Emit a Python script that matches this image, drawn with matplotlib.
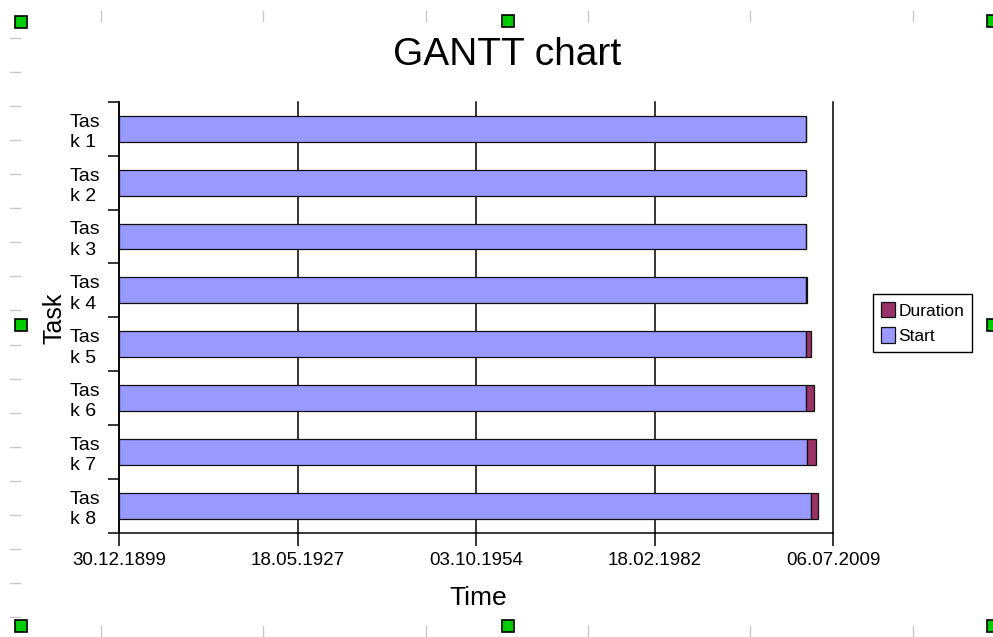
import matplotlib.pyplot as plt
import matplotlib.ticker as mticker
from matplotlib.patches import Rectangle
from matplotlib.lines import Line2D
from datetime import date, timedelta

plt.rcParams['font.family'] = ['Liberation Sans', 'DejaVu Sans']

tasks = ['Task 1', 'Task 2', 'Task 3', 'Task 4', 'Task 5', 'Task 6', 'Task 7', 'Task 8']
tick_labels = ['Tas\nk 1', 'Tas\nk 2', 'Tas\nk 3', 'Tas\nk 4',
               'Tas\nk 5', 'Tas\nk 6', 'Tas\nk 7', 'Tas\nk 8']
start_dates = ['2005-04-29', '2005-04-29', '2005-04-29', '2005-04-20',
               '2005-04-20', '2005-04-29', '2005-07-26', '2006-02-18']
durations = [3, 3, 3, 100, 280, 470, 487, 392]  # days

# spreadsheet-style day numbers (day 0 = 30.12.1899)
base = date(1899, 12, 30)
starts = [(date.fromisoformat(d) - base).days for d in start_dates]

W, H = 993, 637
fig = plt.figure(figsize=(W / 100, H / 100), dpi=100)
ax = fig.add_axes([119 / W, 1 - 533 / H, (833 - 119) / W, (533 - 101.7) / H])

ypos = [i + 0.5 for i in range(len(tasks))]
b_start = ax.barh(ypos, starts, height=0.48, color='#9999ff', edgecolor='#111111',
                  linewidth=0.9, label='Start', zorder=3)
b_dur = ax.barh(ypos, durations, left=starts, height=0.48, color='#993366',
                edgecolor='#111111', linewidth=0.9, label='Duration', zorder=3)

ax.set_ylim(len(tasks), 0)
ax.set_xlim(0, 40000)
ax.set_xticks(range(0, 40001, 10000))
ax.xaxis.set_major_formatter(mticker.FuncFormatter(
    lambda v, p: (base + timedelta(days=int(v))).strftime('%d.%m.%Y')))

ax.set_yticks(range(len(tasks) + 1))
ax.set_yticklabels([])
ax.set_yticks(ypos, minor=True)
ax.set_yticklabels(tick_labels, minor=True, fontsize=14, linespacing=1.25,
                   multialignment='left')
ax.tick_params(axis='y', which='major', length=8, width=1.1, direction='out')
ax.tick_params(axis='y', which='minor', length=0, pad=13.5)
ax.tick_params(axis='x', length=9, width=1.1, labelsize=13.5, pad=5)

ax.set_axisbelow(True)
ax.xaxis.grid(True, color='black', linewidth=1.1)
for gl in ax.get_xgridlines():
    gl.set_clip_on(False)
ax.spines['top'].set_visible(False)
ax.spines['right'].set_visible(False)
ax.spines['left'].set_linewidth(1.1)
ax.spines['bottom'].set_linewidth(1.1)

fig.text(507 / W, 1 - 55 / H, 'GANTT chart', fontsize=28, ha='center', va='center')
fig.text(478 / W, 1 - 598 / H, 'Time', fontsize=19, ha='center', va='center')
fig.text(55 / W, 1 - 318 / H, 'Task', fontsize=18, rotation=90, ha='center', va='center')

fig.legend([b_dur, b_start], ['Duration', 'Start'], loc='upper left',
           bbox_to_anchor=(873 / W, 1 - 294 / H), fontsize=12.5, frameon=True,
           fancybox=False, edgecolor='black', framealpha=1, handlelength=0.8,
           handleheight=1.0, handletextpad=0.2, borderpad=0.45, labelspacing=0.5,
           borderaxespad=0)
fig.legends[0].get_frame().set_linewidth(1.0)

# editor selection handles and ruler marks seen in the screenshot
for hx, hy in [(21, 22), (508, 21), (993, 21), (21, 325), (993, 325),
               (21, 626), (508, 626), (993, 626)]:
    fig.patches.append(Rectangle(((hx - 6) / W, 1 - (hy + 6) / H), 12 / W, 12 / H,
                                 transform=fig.transFigure, facecolor='#00cc00',
                                 edgecolor='black', linewidth=1.2))
for k in range(6):
    rx = (101 + 162.3 * k) / W
    fig.lines.append(Line2D([rx, rx], [1 - 11 / H, 1 - 21 / H], transform=fig.transFigure,
                            color='#c8c8c8', linewidth=1))
    fig.lines.append(Line2D([rx, rx], [1 - 626 / H, 0], transform=fig.transFigure,
                            color='#c8c8c8', linewidth=1))
for k in range(18):
    ry = 1 - (37.7 + 34.1 * k) / H
    fig.lines.append(Line2D([10 / W, 20 / W], [ry, ry], transform=fig.transFigure,
                            color='#c8c8c8', linewidth=1))

fig.savefig('out.png', dpi=100)
